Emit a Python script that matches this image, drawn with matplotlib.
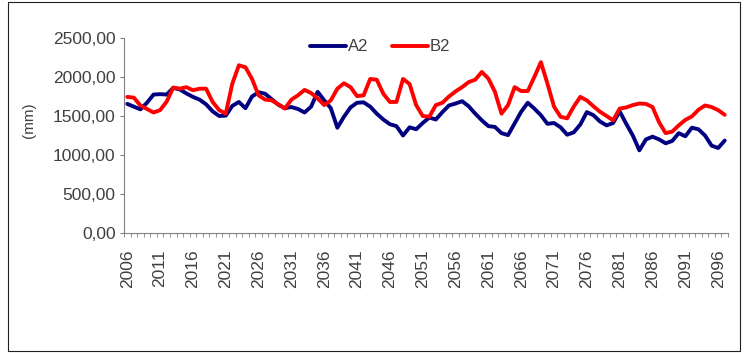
import matplotlib.pyplot as plt
from matplotlib.ticker import FuncFormatter, FixedLocator
from matplotlib.patches import Rectangle

plt.rcParams['font.family'] = ['Liberation Sans', 'DejaVu Sans']

years = list(range(2006, 2098))
a2 = [1655, 1620, 1585, 1670, 1775, 1780, 1775, 1860, 1840, 1790,
      1745, 1710, 1650, 1560, 1500, 1505, 1630, 1680, 1600, 1750,
      1805, 1785, 1715, 1645, 1600, 1615, 1590, 1545, 1620, 1810,
      1700, 1600, 1350, 1490, 1610, 1670, 1675, 1620, 1530, 1455,
      1395, 1370, 1250, 1355, 1330, 1410, 1480, 1455, 1550, 1635,
      1660, 1690, 1625, 1530, 1445, 1370, 1360, 1280, 1255, 1405,
      1555, 1670, 1595, 1510, 1400, 1410, 1355, 1260, 1290, 1390,
      1550, 1510, 1430, 1380, 1410, 1560, 1400, 1250, 1060, 1200,
      1235, 1200, 1150, 1180, 1280, 1240, 1350, 1330, 1250, 1120,
      1090, 1185]
b2 = [1745, 1735, 1635, 1590, 1545, 1575, 1685, 1865, 1850, 1870,
      1830, 1850, 1850, 1680, 1575, 1530, 1915, 2150, 2125, 1975,
      1765, 1710, 1700, 1650, 1595, 1710, 1765, 1835, 1795, 1725,
      1640, 1700, 1850, 1920, 1870, 1755, 1765, 1975, 1965, 1785,
      1680, 1680, 1975, 1910, 1640, 1500, 1490, 1640, 1670, 1750,
      1815, 1870, 1935, 1965, 2065, 1980, 1810, 1530, 1640, 1870,
      1820, 1820, 2000, 2190, 1915, 1620, 1490, 1470, 1620, 1745,
      1700, 1625, 1555, 1500, 1445, 1595, 1610, 1640, 1660, 1655,
      1615, 1420, 1280, 1300, 1380, 1450, 1495, 1580, 1635, 1615,
      1575, 1515]
y_ticks = [0, 500, 1000, 1500, 2000, 2500]

fig = plt.figure(figsize=(7.52, 3.53), dpi=100)
ax = fig.add_axes([124 / 752, 1 - 233 / 353, 604 / 752, 195 / 353])

# chart border
fig.patches.append(Rectangle((8 / 752, 2 / 353), 732 / 752, 349 / 353,
                             transform=fig.transFigure, fill=False,
                             edgecolor='#202020', linewidth=0.8))

x = list(range(len(years)))
ax.plot(x, a2, color='#000080', linewidth=2.8, label='A2', solid_capstyle='round')
ax.plot(x, b2, color='#ff0000', linewidth=2.8, label='B2', solid_capstyle='round')

ax.set_xlim(-0.5, len(years) - 0.5)
ax.set_ylim(0, 2500)
ax.set_yticks(y_ticks)
ax.yaxis.set_major_formatter(FuncFormatter(lambda v, p: f'{v:.2f}'.replace('.', ',')))

major = list(range(0, len(years), 5))
ax.xaxis.set_major_locator(FixedLocator(major))
ax.set_xticklabels([str(years[i]) for i in major], rotation=90)
ax.xaxis.set_minor_locator(FixedLocator([i - 0.5 for i in range(len(years) + 1)]))
ax.tick_params(axis='x', which='major', length=0, pad=12)
ax.tick_params(axis='x', which='minor', length=3, color='#808080')
ax.tick_params(axis='y', length=3, color='#808080', pad=3)
ax.tick_params(labelsize=12.5, labelcolor='#404040')

for s in ['top', 'right']:
    ax.spines[s].set_visible(False)
for s in ['left', 'bottom']:
    ax.spines[s].set_color('#808080')

ax.set_ylabel('(mm)', fontsize=11, color='#404040')
ax.yaxis.set_label_coords(-0.146, 0.58)

ax.legend(loc='upper center', bbox_to_anchor=(0.424, 1.07), ncol=2, frameon=False,
          fontsize=12, handlelength=2.2, columnspacing=1.4, handletextpad=0.1,
          labelcolor='#404040')

fig.savefig('out.png', dpi=100)
